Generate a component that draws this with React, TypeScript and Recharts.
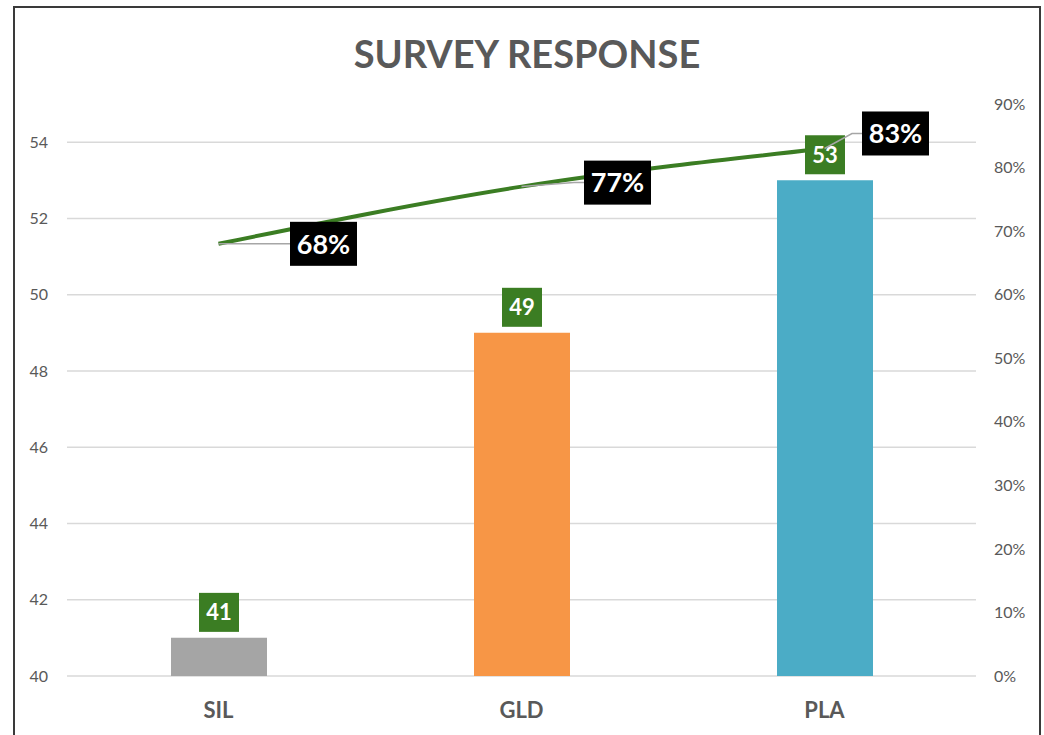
import React from 'react';
import { ComposedChart, Bar, Line, XAxis, YAxis, CartesianGrid, Cell, LabelList } from 'recharts';

// survey data
const categories = ['SIL', 'GLD', 'PLA'];
const responses = [41, 49, 53];
const rates = [0.68, 0.77, 0.83];
const leftTicks = [40, 42, 44, 46, 48, 50, 52, 54];
const rightTicks = [0, 0.1, 0.2, 0.3, 0.4, 0.5, 0.6, 0.7, 0.8, 0.9];

const barColors = ['#a5a5a5', '#f79646', '#4bacc6'];
const GREEN = '#3b7d23';
const TEXT = '#595959';
const FONT = 'Lato, "Open Sans", sans-serif';

// where each percentage box sits relative to its point
const rateLabelOffsets = [
  { dx: 105, dy: 0 },
  { dx: 96, dy: -4 },
  { dx: 71, dy: -15 },
];

const data = categories.map((name, i) => ({
  name,
  responses: responses[i],
  rate: rates[i],
}));

const BarValueLabel = (props: any) => {
  const { x, y, width, value } = props;
  const w = 40;
  const h = 39;
  const cx = x + width / 2;
  const bottom = y - 6;
  return (
    <g>
      <rect x={cx - w / 2} y={bottom - h} width={w} height={h} fill={GREEN} />
      <text
        x={cx}
        y={bottom - h / 2}
        dy="0.36em"
        textAnchor="middle"
        fill="#fff"
        fontFamily={FONT}
        fontWeight={700}
        fontSize={22}
      >
        {value}
      </text>
    </g>
  );
};

const RateLabel = (props: any) => {
  const { x, y, value, index } = props;
  const off = rateLabelOffsets[index] || { dx: 80, dy: 0 };
  const w = 67;
  const h = 44;
  const cx = x + off.dx;
  const cy = y + off.dy;
  const left = cx - w / 2;
  return (
    <g>
      <polyline
        points={`${x},${y} ${left - 10},${cy} ${left},${cy}`}
        fill="none"
        stroke="#a6a6a6"
        strokeWidth={1.5}
      />
      <rect x={left} y={cy - h / 2} width={w} height={h} fill="#000" />
      <text
        x={cx}
        y={cy}
        dy="0.36em"
        textAnchor="middle"
        fill="#fff"
        fontFamily={FONT}
        fontWeight={700}
        fontSize={27}
      >
        {`${Math.round(value * 100)}%`}
      </text>
    </g>
  );
};

export default function App() {
  return (
    <div
      style={{
        position: 'absolute',
        left: 0,
        top: 0,
        width: 1044,
        height: 735,
        overflow: 'hidden',
        background: '#fff',
        fontFamily: FONT,
      }}
    >
      <div
        style={{
          position: 'absolute',
          left: 13,
          top: 6,
          width: 1028,
          height: 800,
          border: '2px solid #3a3a3a',
          boxSizing: 'border-box',
        }}
      />
      <div
        style={{
          position: 'absolute',
          left: 13,
          width: 1028,
          top: 29,
          textAlign: 'center',
          fontSize: 38,
          lineHeight: '48px',
          fontWeight: 700,
          color: TEXT,
        }}
      >
        SURVEY RESPONSE
      </div>
      <div style={{ position: 'absolute', left: 0, top: 0 }}>
        <ComposedChart
          width={1044}
          height={735}
          data={data}
          margin={{ top: 104, right: 0, bottom: 19, left: 12 }}
        >
          <CartesianGrid
            yAxisId="left"
            vertical={false}
            horizontalValues={leftTicks}
            stroke="#d9d9d9"
            strokeWidth={1.5}
          />
          <XAxis
            dataKey="name"
            axisLine={false}
            tickLine={false}
            tickSize={0}
            tickMargin={26}
            height={40}
            tick={{ fill: TEXT, fontSize: 22, fontWeight: 700, fontFamily: FONT }}
          />
          <YAxis
            yAxisId="left"
            domain={[40, 55]}
            ticks={leftTicks}
            interval={0}
            axisLine={false}
            tickLine={false}
            tickSize={0}
            tickMargin={19}
            width={55}
            tick={{ fill: TEXT, fontSize: 16, fontFamily: FONT }}
          />
          <YAxis
            yAxisId="right"
            orientation="right"
            domain={[0, 0.9]}
            ticks={rightTicks}
            interval={0}
            axisLine={false}
            tickLine={false}
            tickSize={0}
            tickMargin={18}
            width={68}
            tickFormatter={(v: number) => `${Math.round(v * 100)}%`}
            tick={{ fill: TEXT, fontSize: 16, fontFamily: FONT, textAnchor: 'start' }}
          />
          <Bar yAxisId="left" dataKey="responses" barSize={96} isAnimationActive={false}>
            {data.map((d, i) => (
              <Cell key={d.name} fill={barColors[i]} />
            ))}
            <LabelList dataKey="responses" content={BarValueLabel} />
          </Bar>
          <Line
            yAxisId="right"
            type="monotone"
            dataKey="rate"
            stroke={GREEN}
            strokeWidth={4}
            dot={false}
            activeDot={false}
            isAnimationActive={false}
          >
            <LabelList dataKey="rate" content={RateLabel} />
          </Line>
        </ComposedChart>
      </div>
    </div>
  );
}
